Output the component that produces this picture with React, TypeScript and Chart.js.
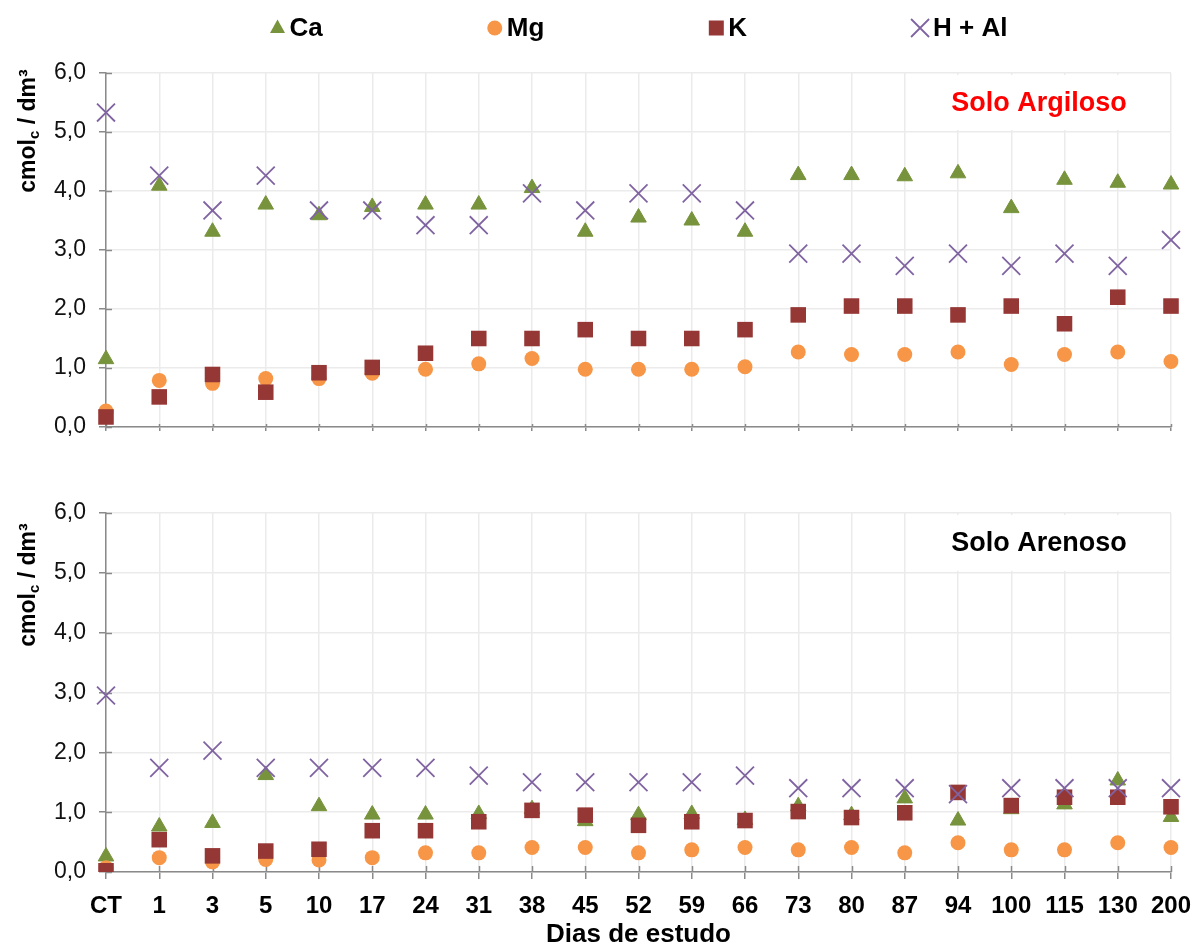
import React, { useEffect, useRef } from 'react';
import { Chart, registerables } from 'chart.js';

Chart.register(...registerables);

// ---------- data ----------
const categories = ['CT', '1', '3', '5', '10', '17', '24', '31', '38', '45', '52', '59', '66', '73', '80', '87', '94', '100', '115', '130', '200'];
const yTicks = [0, 1, 2, 3, 4, 5, 6];
const seriesNames = ['Ca', 'Mg', 'K', 'H + Al'];

// Solo Argiloso
const argCa = [1.15, 4.09, 3.31, 3.77, 3.59, 3.73, 3.77, 3.77, 4.05, 3.31, 3.55, 3.50, 3.31, 4.27, 4.27, 4.25, 4.30, 3.71, 4.19, 4.14, 4.11];
const argMg = [0.27, 0.79, 0.74, 0.82, 0.82, 0.91, 0.98, 1.07, 1.16, 0.98, 0.98, 0.98, 1.02, 1.27, 1.23, 1.23, 1.27, 1.06, 1.23, 1.27, 1.11];
const argK = [0.17, 0.51, 0.89, 0.59, 0.92, 1.01, 1.25, 1.50, 1.50, 1.65, 1.50, 1.50, 1.65, 1.90, 2.05, 2.05, 1.90, 2.05, 1.75, 2.20, 2.05];
const argHAl = [5.33, 4.26, 3.67, 4.26, 3.67, 3.67, 3.42, 3.42, 3.96, 3.67, 3.96, 3.96, 3.67, 2.94, 2.94, 2.73, 2.94, 2.73, 2.94, 2.73, 3.17];

// Solo Arenoso
const areCa = [0.26, 0.76, 0.82, 1.62, 1.10, 0.96, 0.96, 0.97, 1.05, 0.85, 0.95, 0.97, 0.87, 1.10, 0.95, 1.23, 0.86, 1.05, 1.13, 1.53, 0.92];
const areMg = [0.07, 0.24, 0.17, 0.21, 0.20, 0.24, 0.32, 0.32, 0.41, 0.41, 0.32, 0.37, 0.41, 0.37, 0.41, 0.32, 0.49, 0.37, 0.37, 0.49, 0.41];
const areK = [0.02, 0.54, 0.27, 0.35, 0.38, 0.69, 0.69, 0.84, 1.03, 0.95, 0.78, 0.84, 0.86, 1.01, 0.91, 0.99, 1.33, 1.11, 1.25, 1.25, 1.09];
const areHAl = [2.95, 1.74, 2.03, 1.74, 1.74, 1.74, 1.74, 1.61, 1.50, 1.50, 1.50, 1.50, 1.61, 1.40, 1.40, 1.40, 1.30, 1.40, 1.40, 1.40, 1.40];

// ---------- styles ----------
const FONT = '"Liberation Sans", Arial, sans-serif';
const CA_COLOR = '#77933C';
const MG_COLOR = '#F79646';
const K_COLOR = '#953735';
const HAL_COLOR = '#8064A2';
const AXIS_GRAY = '#8a8a8a';
const GRID_GRAY = '#ebebeb';

function drawMarker(ctx: CanvasRenderingContext2D, kind: string, x: number, y: number, color: string) {
  ctx.save();
  ctx.fillStyle = color;
  ctx.strokeStyle = color;
  ctx.beginPath();
  if (kind === 'triangle') {
    ctx.moveTo(x, y - 8.5);
    ctx.lineTo(x + 7.5, y + 5);
    ctx.lineTo(x - 7.5, y + 5);
    ctx.closePath();
    ctx.fill();
  } else if (kind === 'circle') {
    ctx.arc(x, y, 7.5, 0, Math.PI * 2);
    ctx.fill();
  } else if (kind === 'rect') {
    ctx.rect(x - 7.5, y - 7.5, 15, 15);
    ctx.fill();
  } else {
    ctx.lineWidth = 1.8;
    ctx.moveTo(x - 9, y - 9);
    ctx.lineTo(x + 9, y + 9);
    ctx.moveTo(x + 9, y - 9);
    ctx.lineTo(x - 9, y + 9);
    ctx.stroke();
  }
  ctx.restore();
}

function drawYTitle(ctx: CanvasRenderingContext2D, cx: number, cy: number) {
  const big = `bold 23px ${FONT}`;
  const small = `bold 15px ${FONT}`;
  const parts = [
    { t: 'cmol', f: big, dy: 0 },
    { t: 'c', f: small, dy: 4 },
    { t: ' / dm³', f: big, dy: 0 },
  ];
  ctx.save();
  ctx.translate(cx, cy);
  ctx.rotate(-Math.PI / 2);
  ctx.textAlign = 'left';
  ctx.textBaseline = 'alphabetic';
  ctx.fillStyle = '#000';
  let total = 0;
  const widths = parts.map((p) => {
    ctx.font = p.f;
    const w = ctx.measureText(p.t).width;
    total += w;
    return w;
  });
  let x = -total / 2;
  parts.forEach((p, i) => {
    ctx.font = p.f;
    ctx.fillText(p.t, x, 8 + p.dy);
    x += widths[i];
  });
  ctx.restore();
}

type PanelOpts = {
  label: string;
  labelColor: string;
  titleOffset: number;
  legend: boolean;
  innerX: number;
};

function makeDecor(o: PanelOpts) {
  return {
    id: 'decor',
    beforeDatasetsDraw(chart: any) {
      const { ctx, chartArea: ca, scales } = chart;
      const xs = scales.x;
      const ys = scales.y;
      ctx.save();
      // inner half of the crossing tick marks
      ctx.strokeStyle = AXIS_GRAY;
      ctx.lineWidth = 1.5;
      ctx.beginPath();
      ys.ticks.forEach((_t: any, i: number) => {
        const py = Math.round(ys.getPixelForTick(i)) + 0.5;
        ctx.moveTo(ca.left, py);
        ctx.lineTo(ca.left + 6, py);
      });
      xs.ticks.forEach((_t: any, i: number) => {
        const px = Math.round(xs.getPixelForTick(i)) + 0.5;
        ctx.moveTo(px, ca.bottom);
        ctx.lineTo(px, ca.bottom - o.innerX);
      });
      ctx.stroke();
      // text box with label
      const y6 = ys.getPixelForValue(6);
      const y5 = ys.getPixelForValue(5);
      ctx.font = `bold 27px ${FONT}`;
      const tw = ctx.measureText(o.label).width;
      const cx = ca.right - 132;
      const cy = (y6 + y5) / 2;
      ctx.fillStyle = '#fff';
      ctx.fillRect(cx - tw / 2 - 14, y6 + 2, ca.right - 2 - (cx - tw / 2 - 14), y5 - y6 - 4);
      ctx.fillStyle = o.labelColor;
      ctx.textAlign = 'center';
      ctx.textBaseline = 'middle';
      ctx.fillText(o.label, cx, cy + 1);
      ctx.restore();
    },
    afterDraw(chart: any) {
      const { ctx, chartArea: ca } = chart;
      drawYTitle(ctx, 27, ca.top + o.titleOffset);
      if (o.legend) {
        ctx.save();
        ctx.font = `bold 26px ${FONT}`;
        ctx.textBaseline = 'middle';
        ctx.textAlign = 'left';
        ctx.fillStyle = '#000';
        const kinds = ['triangle', 'circle', 'rect', 'crossRot'];
        const colors = [CA_COLOR, MG_COLOR, K_COLOR, HAL_COLOR];
        const markW = [16, 16, 16, 18];
        const gap = 4;
        const itemGap = 164;
        const widths = seriesNames.map((n, i) => markW[i] + gap + ctx.measureText(n).width);
        const total = widths.reduce((a, b) => a + b, 0) + itemGap * (seriesNames.length - 1);
        let x = (ca.left + ca.right) / 2 - total / 2;
        const y = 28;
        seriesNames.forEach((n, i) => {
          drawMarker(ctx, kinds[i], x + markW[i] / 2, y, colors[i]);
          ctx.fillStyle = '#000';
          ctx.fillText(n, x + markW[i] + gap, y + 1);
          x += widths[i] + itemGap;
        });
        ctx.restore();
      }
    },
  };
}

function buildConfig(ca: number[], mg: number[], k: number[], hal: number[], showX: boolean, xHeight: number, padTop: number, o: PanelOpts) {
  return {
    type: 'line' as const,
    data: {
      labels: categories,
      datasets: [
        { label: seriesNames[0], data: ca, showLine: false, pointStyle: 'triangle', pointRadius: 9, pointHoverRadius: 9, backgroundColor: CA_COLOR, borderColor: CA_COLOR, pointBorderWidth: 1, order: 4 },
        { label: seriesNames[1], data: mg, showLine: false, pointStyle: 'circle', pointRadius: 7.5, pointHoverRadius: 7.5, backgroundColor: MG_COLOR, borderColor: MG_COLOR, pointBorderWidth: 0, order: 3 },
        { label: seriesNames[2], data: k, showLine: false, pointStyle: 'rect', pointRadius: 11, pointHoverRadius: 11, backgroundColor: K_COLOR, borderColor: K_COLOR, pointBorderWidth: 0, order: 2 },
        { label: seriesNames[3], data: hal, showLine: false, pointStyle: 'crossRot', pointRadius: 12.7, pointHoverRadius: 12.7, backgroundColor: HAL_COLOR, borderColor: HAL_COLOR, pointBorderWidth: 1.8, order: 1 },
      ],
    },
    options: {
      responsive: false,
      animation: false as const,
      events: [],
      layout: { padding: { top: padTop, right: 25, left: 0, bottom: 0 } },
      plugins: { legend: { display: false }, tooltip: { enabled: false }, title: { display: false } },
      scales: {
        x: {
          type: 'category' as const,
          offset: false,
          grid: { color: GRID_GRAY, lineWidth: 1.5, tickColor: AXIS_GRAY, tickWidth: 1.5, tickLength: showX ? 7 : 4, drawTicks: true },
          border: { color: AXIS_GRAY, width: 1.5 },
          ticks: { display: showX, autoSkip: false, maxRotation: 0, color: '#000', padding: 13, font: { family: FONT, size: 24, weight: 'bold' as const } },
          title: { display: showX, text: 'Dias de estudo', color: '#000', padding: { top: 0, bottom: 0 }, font: { family: FONT, size: 26, weight: 'bold' as const, lineHeight: '20px' } },
          afterFit: (s: any) => { s.height = xHeight; s.paddingLeft = 0; s.paddingRight = 0; },
        },
        y: {
          min: 0,
          max: 6,
          afterBuildTicks: (s: any) => { s.ticks = yTicks.map((v) => ({ value: v })); },
          grid: { color: GRID_GRAY, lineWidth: 1.5, tickColor: AXIS_GRAY, tickWidth: 1.5, tickLength: 7, drawTicks: true },
          border: { color: AXIS_GRAY, width: 1.5 },
          ticks: { color: '#111', padding: 13, font: { family: FONT, size: 23 }, callback: (v: any) => Number(v).toFixed(1).replace('.', ',') },
          afterFit: (s: any) => { s.width = 106; },
        },
      },
    },
    plugins: [makeDecor(o)],
  };
}

function Panel(props: { height: number; top: number; cfg: any }) {
  const ref = useRef<HTMLCanvasElement | null>(null);
  useEffect(() => {
    if (!ref.current) return;
    const chart = new Chart(ref.current, props.cfg);
    return () => chart.destroy();
  }, []);
  return (
    <canvas
      ref={ref}
      width={1196}
      height={props.height}
      style={{ position: 'absolute', left: 0, top: props.top, width: 1196, height: props.height }}
    />
  );
}

export default function App() {
  const topCfg = buildConfig(argCa, argMg, argK, argHAl, false, 43, 73, {
    label: 'Solo Argiloso', labelColor: '#FF0000', titleOffset: 58, legend: true, innerX: 3,
  });
  const botCfg = buildConfig(areCa, areMg, areK, areHAl, true, 73, 43, {
    label: 'Solo Arenoso', labelColor: '#000000', titleOffset: 72, legend: false, innerX: 6,
  });
  return (
    <div style={{ position: 'absolute', left: 0, top: 0, width: 1196, height: 945, background: '#fff' }}>
      <Panel height={470} top={0} cfg={topCfg} />
      <Panel height={475} top={470} cfg={botCfg} />
    </div>
  );
}
